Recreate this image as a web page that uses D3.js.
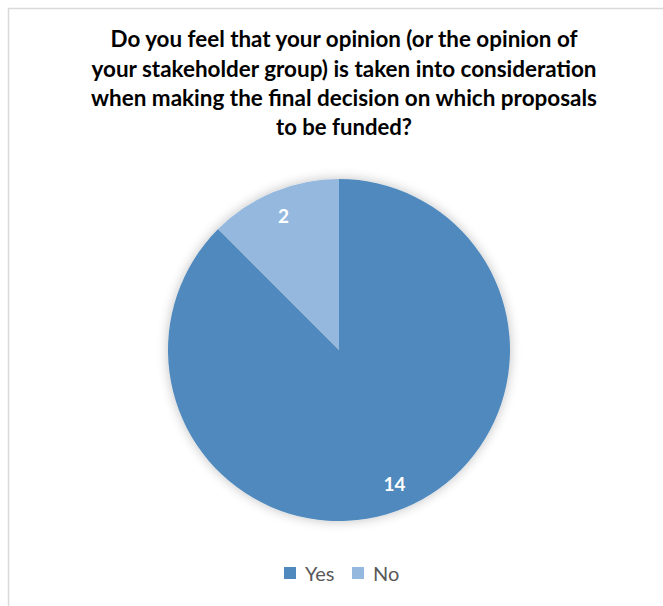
<!DOCTYPE html>
<html><head><meta charset="utf-8">
<script src="https://cdn.jsdelivr.net/npm/d3@7"></script>
<style>body{margin:0;background:#fff}svg{display:block}</style>
</head><body>
<script>
const categories = ["Yes", "No"];
const values = [14, 2];
const colors = ["#4F89BD", "#95B8DF"];
const titleLines = ["Do you feel that your opinion (or the opinion of", "your stakeholder group) is taken into consideration", "when making the final decision on which proposals", "to be funded?"];
const titleWidths = [467, 505, 506, 136];

const W = 663, H = 606;
const svg = d3.select("body").append("svg").attr("width", W).attr("height", H);
const defs = svg.append("defs");
const f = defs.append("filter").attr("id","sh").attr("x","-20%").attr("y","-20%").attr("width","140%").attr("height","140%");
f.append("feGaussianBlur").attr("in","SourceAlpha").attr("stdDeviation",6).attr("result","b");
f.append("feComponentTransfer").append("feFuncA").attr("type","linear").attr("slope",0.25);
const m = f.append("feMerge"); m.append("feMergeNode"); m.append("feMergeNode").attr("in","SourceGraphic");

svg.append("rect").attr("x",8.5).attr("y",8.5).attr("width",W+20).attr("height",H+20)
  .attr("fill","#fff").attr("stroke","#D9D9D9").attr("stroke-width",1.5);

const font = "Lato, 'Open Sans', sans-serif";
const tb = [47, 76.5, 106, 135];
svg.append("g").selectAll("text").data(titleLines).join("text")
  .attr("x", 344).attr("y", (d,i) => tb[i])
  .attr("text-anchor","middle").attr("font-family",font).attr("font-weight","bold")
  .attr("font-size",22).attr("fill","#000")
  .attr("textLength", (d,i) => titleWidths[i]).attr("lengthAdjust","spacingAndGlyphs")
  .text(d => d);

const cx = 339, cy = 350, r = 171;
const pie = d3.pie().sort(null).value(d => d.v);
const data = pie(categories.map((c,i) => ({c, v: values[i], col: colors[i]})));
const arc = d3.arc().innerRadius(0).outerRadius(r);
const labelArc = d3.arc().innerRadius(145).outerRadius(145);
const g = svg.append("g").attr("transform", `translate(${cx},${cy})`);
g.append("g").attr("filter","url(#sh)").selectAll("path").data(data).join("path")
  .attr("d", arc).attr("fill", d => d.data.col);
g.selectAll("text").data(data).join("text")
  .attr("transform", d => `translate(${labelArc.centroid(d)})`)
  .attr("text-anchor","middle").attr("dy","0.35em")
  .attr("font-family",font).attr("font-weight","bold").attr("font-size",19).attr("fill","#fff")
  .text(d => d.data.v);

const leg = svg.append("g");
const lx = [284, 352];
categories.forEach((c,i) => {
  leg.append("rect").attr("x", lx[i]).attr("y", 567).attr("width",12).attr("height",12).attr("fill", colors[i]);
  leg.append("text").attr("x", lx[i]+21).attr("y", 581).attr("font-family",font)
    .attr("font-size",20).attr("fill","#595959").text(c);
});
</script>
</body></html>
